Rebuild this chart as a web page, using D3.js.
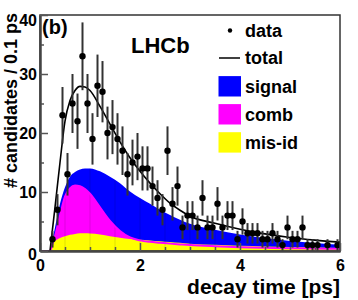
<!DOCTYPE html>
<html>
<head>
<meta charset="utf-8">
<script src="https://cdn.jsdelivr.net/npm/d3@7"></script>
<style>
  html, body { margin: 0; padding: 0; background: #fff; }
  svg text { font-family: "Liberation Sans", Arial, Helvetica, sans-serif; font-weight: bold; }
</style>
</head>
<body>
<svg id="chart"></svg>
<script>
// binned data, 0.1 ps bins
const dataTime = [0.05, 0.15, 0.25, 0.35, 0.45, 0.55, 0.65, 0.75, 0.85, 0.95,
  1.05, 1.15, 1.25, 1.35, 1.45, 1.55, 1.65, 1.75, 1.85, 1.95,
  2.05, 2.15, 2.25, 2.35, 2.45, 2.55, 2.65, 2.75, 2.85, 2.95,
  3.05, 3.15, 3.25, 3.35, 3.45, 3.55, 3.65, 3.75, 3.85, 3.95,
  4.05, 4.15, 4.25, 4.35, 4.45, 4.55, 4.65, 4.75, 4.85, 4.95,
  5.05, 5.15, 5.25, 5.35, 5.45, 5.55, 5.65, 5.75, 5.85, 5.95];
const dataCount = [0, 0, 2, 7, 23, 13, 25, 22, 33, 25,
  19, 28, 27, 20, 21, 19, 17, 13, 15, 16,
  14, 14, 11, 9, 7, 17, 8, 11, 4, 6,
  6, 4, 9, 4, 4, 8, 4, 6, 6, 2,
  5, 3, 3, 3, 2, 2, 3, 2, 1, 4,
  2, 2, 4, 1, 1, 1, 0, 1, 0, 1];

// fit components
const curveTime = [0, 0.2, 0.25, 0.3, 0.4, 0.5, 0.6, 0.7, 0.8, 0.9, 1.0, 1.2, 1.4, 1.6, 1.8,
  2.0, 2.2, 2.4, 2.6, 2.8, 3.0, 3.5, 4.0, 4.5, 5.0, 5.5, 6.0];
const totalFit = [0, 0, 3.7, 7.4, 15, 22, 25.5, 27.2, 27.9, 27.8, 27.2, 24.5, 21.5, 18.5, 15.8,
  13.5, 11.5, 9.7, 8.1, 6.9, 5.9, 4.7, 3.7, 2.9, 2.3, 1.85, 1.5];
const signalFit = [0, 0, 2, 4, 8, 10.8, 12.6, 13.4, 13.8, 14.0, 14.0, 13.5, 12.6, 11.5, 10.1,
  9.0, 8.0, 7.0, 6.1, 5.3, 4.6, 3.6, 2.8, 2.2, 1.7, 1.35, 1.05];
const combFit = [0, 0, 1.2, 2.5, 6, 9.2, 10.6, 11.1, 11.0, 10.5, 9.7, 7.4, 5.1, 3.4, 2.3,
  1.8, 1.55, 1.4, 1.25, 1.12, 1.0, 0.8, 0.65, 0.55, 0.47, 0.42, 0.38];
const misidFit = [0, 0, 1.3, 1.7, 2.2, 2.5, 2.75, 2.9, 3.0, 3.0, 2.95, 2.8, 2.5, 2.25, 2.05,
  1.9, 1.78, 1.65, 1.52, 1.38, 1.25, 1.05, 0.9, 0.78, 0.68, 0.6, 0.52];

const xMajorTicks = [0, 2, 4, 6];
const xMinorTicks = [0.5, 1, 1.5, 2.5, 3, 3.5, 4.5, 5, 5.5];
const yMajorTicks = [0, 10, 20, 30, 40];
const yMinorTicks = [5, 15, 25, 35];
const legendLabels = ["data", "total", "signal", "comb", "mis-id"];

const width = 358, height = 300;
const svg = d3.select("#chart").attr("width", width).attr("height", height);

const x = d3.scaleLinear().domain([0, 6]).range([40, 340]);
const y = d3.scaleLinear().domain([0, 40]).range([251, 15]);

const fitRows = curveTime.map((t, i) => ({
  t, total: totalFit[i], signal: signalFit[i], comb: combFit[i], misid: misidFit[i]
}));

const area = key => d3.area()
  .x(d => x(d.t)).y0(y(0)).y1(d => y(d[key]))
  .curve(d3.curveMonotoneX);
const line = key => d3.line()
  .x(d => x(d.t)).y(d => y(d[key]))
  .curve(d3.curveMonotoneX);

svg.append("clipPath").attr("id", "sigclip")
  .append("path").datum(fitRows).attr("d", area("signal"));

svg.append("path").datum(fitRows).attr("d", area("signal")).attr("fill", "#0000ff");
svg.append("path").datum(fitRows).attr("d", area("comb")).attr("fill", "#ff00ff");
svg.append("path").datum(fitRows).attr("d", area("misid")).attr("fill", "#ffff00");
// faint seams in the filled area, as in the original
svg.append("g").attr("clip-path", "url(#sigclip)")
  .selectAll("line").data(xMinorTicks.concat(xMajorTicks)).join("line")
  .attr("x1", d => x(d)).attr("x2", d => x(d)).attr("y1", y(0)).attr("y2", y(16))
  .attr("stroke", "#000").attr("stroke-opacity", 0.12).attr("stroke-width", 1);
svg.append("path").datum(fitRows).attr("d", line("comb"))
  .attr("fill", "none").attr("stroke", "#ff00ff").attr("stroke-width", 2);
svg.append("path").datum(fitRows.filter(d => d.t >= 0.2)).attr("d", line("total"))
  .attr("fill", "none").attr("stroke", "#000").attr("stroke-width", 1.6);

// data points with sqrt(N) errors
const points = dataTime.map((t, i) => ({ t, n: dataCount[i] })).filter(d => d.n > 0);
const pts = svg.append("g");
pts.selectAll("line").data(points).join("line")
  .attr("x1", d => x(d.t)).attr("x2", d => x(d.t))
  .attr("y1", d => y(Math.max(0, d.n - Math.sqrt(d.n))))
  .attr("y2", d => y(d.n + Math.sqrt(d.n)))
  .attr("stroke", "#333").attr("stroke-width", 2);
pts.selectAll("circle").data(points).join("circle")
  .attr("cx", d => x(d.t)).attr("cy", d => y(d.n)).attr("r", 3.2).attr("fill", "#000");

// frame
svg.append("rect").attr("x", 40).attr("y", 15).attr("width", 300).attr("height", 236)
  .attr("fill", "none").attr("stroke", "#333").attr("stroke-width", 1.5);

// axes
const xAxis = svg.append("g").attr("transform", `translate(0,${y(0)})`);
xAxis.call(d3.axisBottom(x).tickValues(xMinorTicks).tickSize(-4).tickSizeOuter(0).tickFormat(""));
xAxis.append("g").call(d3.axisBottom(x).tickValues(xMajorTicks).tickSize(-8).tickSizeOuter(0)
  .tickPadding(9).tickFormat(d3.format("d")));
const yAxis = svg.append("g").attr("transform", `translate(${x(0)},0)`);
yAxis.call(d3.axisLeft(y).tickValues(yMinorTicks).tickSize(-4).tickSizeOuter(0).tickFormat(""));
yAxis.append("g").call(d3.axisLeft(y).tickValues(yMajorTicks).tickSize(-8).tickSizeOuter(0)
  .tickPadding(3).tickFormat(d3.format("d")));
svg.selectAll(".domain").attr("stroke", "#444").attr("stroke-width", 2);
svg.selectAll(".tick line").attr("stroke", "#555").attr("stroke-width", 1.5);
svg.selectAll(".tick text").attr("fill", "#000").style("font-size", "16px")
  .style("font-family", "'Liberation Sans', Arial, sans-serif").style("font-weight", "bold");
yAxis.selectAll(".tick text").filter(d => d === 40).attr("dy", "0.65em");
yAxis.selectAll(".tick text").filter(d => d === 0).attr("dy", "0.5em");

// axis titles
svg.append("text").attr("transform", "translate(17,13) rotate(-90)")
  .attr("text-anchor", "end").style("font-size", "18px").text("# candidates / 0.1 ps");
svg.append("text").attr("x", 340).attr("y", 294)
  .attr("text-anchor", "end").style("font-size", "21px").text("decay time [ps]");

// labels
svg.append("text").attr("x", 42).attr("y", 34).style("font-size", "20px").text("(b)");
svg.append("text").attr("x", 131).attr("y", 53).style("font-size", "22px").text("LHCb");

// legend
const legendY = [30.5, 58, 86.3, 114.3, 142.4];
const legend = svg.append("g");
legend.append("circle").attr("cx", 230).attr("cy", legendY[0]).attr("r", 2.2).attr("fill", "#000");
legend.append("line").attr("x1", 219).attr("x2", 240).attr("y1", legendY[1]).attr("y2", legendY[1])
  .attr("stroke", "#000").attr("stroke-width", 1.5);
const boxColors = ["#0000ff", "#ff00ff", "#ffff00"];
boxColors.forEach((c, i) => {
  legend.append("rect").attr("x", 218.5).attr("y", legendY[i + 2] - 10.2)
    .attr("width", 22.5).attr("height", 20.4).attr("fill", c);
});
legend.selectAll("text").data(legendLabels).join("text")
  .attr("x", 245).attr("y", (d, i) => legendY[i]).attr("dy", "0.35em")
  .style("font-size", "18px").text(d => d);
</script>
</body>
</html>
